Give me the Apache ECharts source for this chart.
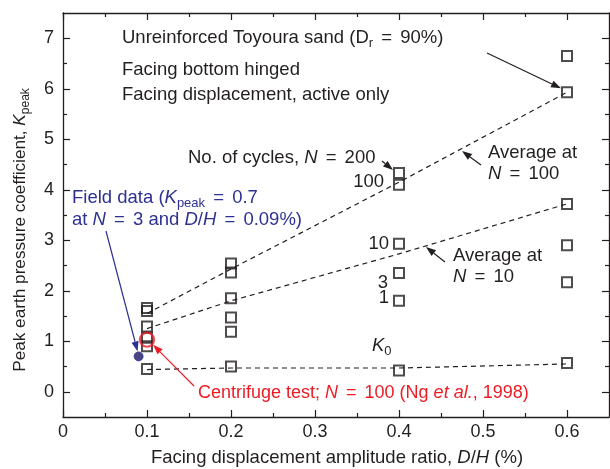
<!DOCTYPE html>
<html>
<head>
<meta charset="utf-8">
<script src="https://cdn.jsdelivr.net/npm/echarts@6/dist/echarts.min.js"></script>
<style>
  html, body { margin: 0; padding: 0; background: #ffffff; }
  #chart { width: 610px; height: 469px; }
</style>
</head>
<body>
<div id="chart"></div>
<script>
// Facing displacement amplitude ratio D/H (%) of the tested columns
const ratio = [0.1, 0.2, 0.4, 0.6];

// Measured peak earth pressure coefficients, by number of cycles
const kN200 = [1.66, 2.54, 4.33, 6.65];
const kN100 = [1.60, 2.36, 4.10, 5.93];
const kN10  = [1.29, 1.85, 2.93, 3.72];
const kN3   = [1.07, 1.47, 2.35, 2.90];
const kN1   = [0.90, 1.19, 1.80, 2.17];
const kK0   = [0.45, 0.50, 0.42, 0.57];

// Average trends
const avgN100 = [1.55, 2.43, 4.15, 5.93];
const avgN10  = [1.25, 1.80, 2.73, 3.72];
const trendK0 = [0.44, 0.47, 0.47, 0.55];

// Other references
const fieldPoint = [0.09, 0.7];
const centrifugePoint = [0.1, 1.03];

// Axis ticks
const xMajorTicks = [0, 0.1, 0.2, 0.3, 0.4, 0.5, 0.6];
const xMinorTicks = [0.05, 0.15, 0.25, 0.35, 0.45, 0.55];
const yMajorTicks = [0, 1, 2, 3, 4, 5, 6, 7];
const yMinorTicks = [0.5, 1.5, 2.5, 3.5, 4.5, 5.5, 6.5];

const FONT = '"Liberation Sans", Arial, sans-serif';
const INK = '#231f20';
const RED = '#ed1c24';
const BLUE = '#2e3192';
const FS = 18.5;

const chart = echarts.init(document.getElementById('chart'), null, { renderer: 'canvas' });

const pairs = vals => ratio.map((x, i) => [x, vals[i]]);

const squares = (name, vals) => ({
  name, type: 'scatter', data: pairs(vals), symbol: 'rect', symbolSize: 10,
  itemStyle: { color: 'rgba(255,255,255,0)', borderColor: INK, borderWidth: 2 },
  z: 5, silent: true
});
const dashed = (name, vals) => ({
  name, type: 'line', data: pairs(vals), symbol: 'none',
  lineStyle: { color: INK, width: 1.2, type: [5, 4] }, z: 3, silent: true
});

function axis(pos, dim, ticks, len, withLine, labels) {
  const a = {
    type: 'value', position: pos,
    min: dim === 'x' ? 0 : -0.5, max: dim === 'x' ? 0.65 : 7.5,
    axisLine: { show: withLine, onZero: false, lineStyle: { color: INK, width: 1.3 } },
    axisTick: { show: true, inside: true, length: len, customValues: ticks, lineStyle: { color: INK, width: 1.2 } },
    axisLabel: { show: false },
    splitLine: { show: false }
  };
  if (labels) {
    a.axisLabel = {
      show: true, customValues: ticks, color: INK, fontSize: 18, fontFamily: FONT,
      margin: dim === 'x' ? 6 : 9,
      formatter: v => (dim === 'x' ? (v === 0 ? '0' : v.toFixed(1)) : String(v))
    };
  }
  return a;
}

chart.setOption({
  animation: false,
  backgroundColor: '#ffffff',
  textStyle: { fontFamily: FONT },
  grid: { left: 63, right: 1, top: 13, bottom: 52, containLabel: false },
  xAxis: [
    axis('bottom', 'x', xMajorTicks, 7, true, true),
    axis('bottom', 'x', xMinorTicks, 4, false, false),
    axis('top', 'x', xMajorTicks, 7, true, false),
    axis('top', 'x', xMinorTicks, 4, false, false)
  ],
  yAxis: [
    axis('left', 'y', yMajorTicks, 7, true, true),
    axis('left', 'y', yMinorTicks, 4, false, false),
    axis('right', 'y', yMajorTicks, 7, true, false),
    axis('right', 'y', yMinorTicks, 4, false, false)
  ],
  series: [
    dashed('Average N = 100', avgN100),
    dashed('Average N = 10', avgN10),
    dashed('K0 trend', trendK0),
    squares('N = 200', kN200),
    squares('N = 100', kN100),
    squares('N = 10', kN10),
    squares('N = 3', kN3),
    squares('N = 1', kN1),
    squares('K0', kK0),
    {
      name: 'Centrifuge test', type: 'scatter', data: [centrifugePoint], symbol: 'circle', symbolSize: 14,
      itemStyle: { color: 'rgba(255,255,255,0)', borderColor: RED, borderWidth: 2.2 }, z: 6, silent: true
    },
    {
      name: 'Field data', type: 'scatter', data: [fieldPoint], symbol: 'circle', symbolSize: 9,
      itemStyle: { color: '#1b1464', borderColor: BLUE, borderWidth: 1 }, z: 6, silent: true
    }
  ]
});

// ---- annotations ----
const measureCtx = document.createElement('canvas').getContext('2d');
const fontStr = (size, italic) => (italic ? 'italic ' : '') + size + 'px ' + FONT;
function textWidth(t, size, italic) {
  measureCtx.font = fontStr(size, italic);
  return measureCtx.measureText(t).width;
}

// Lay out a run of text pieces (plain, italic, subscript, fixed gaps) starting at x, centred on y.
function textRun(x, y, segs, opts) {
  opts = opts || {};
  const size = opts.size || FS;
  const color = opts.color || INK;
  const subSize = Math.round(size * 0.7);
  const widths = segs.map(s => (s.gap !== undefined ? s.gap : textWidth(s.t, s.sub ? subSize : size, s.i)));
  const total = widths.reduce((a, b) => a + b, 0);
  let cx = opts.align === 'right' ? x - total : opts.align === 'center' ? x - total / 2 : x;
  const out = [];
  segs.forEach((s, k) => {
    if (s.gap === undefined) {
      out.push({
        type: 'text', x: cx, y: y + (s.sub ? size * 0.32 : 0), silent: true, z: 20,
        style: {
          text: s.t, font: fontStr(s.sub ? subSize : size, s.i), fill: color,
          textAlign: 'left', verticalAlign: 'middle'
        }
      });
    }
    cx += widths[k];
  });
  return out;
}

function arrow(x1, y1, x2, y2, color, width) {
  const ang = Math.atan2(y2 - y1, x2 - x1);
  const hl = 10, hw = 3.6;
  const bx = x2 - hl * Math.cos(ang), by = y2 - hl * Math.sin(ang);
  const px = -Math.sin(ang) * hw, py = Math.cos(ang) * hw;
  return [
    { type: 'line', silent: true, z: 19, shape: { x1, y1, x2: bx, y2: by }, style: { stroke: color, lineWidth: width || 1.2 } },
    { type: 'polygon', silent: true, z: 19, shape: { points: [[x2, y2], [bx + px, by + py], [bx - px, by - py]] }, style: { fill: color } }
  ];
}

const P = (x, y) => chart.convertToPixel({ xAxisIndex: 0, yAxisIndex: 0 }, [x, y]);

const g = [];
const T = (s, i, sub) => ({ t: s, i: !!i, sub: !!sub });
const GAP = { gap: 3 };
const EQ = [GAP, T(' = '), GAP];

g.push(...textRun(122, 38, [T('Unreinforced Toyoura sand (D'), T('r', 0, 1), ...EQ, T('90%)')]));
g.push(...textRun(122, 70, [T('Facing bottom hinged')]));
g.push(...textRun(122, 95, [T('Facing displacement, active only')]));

const pTop = P(ratio[3], kN100[3]);
g.push(...arrow(487, 53, pTop[0] - 6, pTop[1] - 4, INK));

g.push(...textRun(188, 158, [T('No. of cycles, '), T('N', 1), ...EQ, T('200')]));
const p200 = P(ratio[2], kN200[2]);
g.push(...arrow(382, 161, p200[0] - 6, p200[1] - 3, INK));
g.push(...textRun(384, 182, [T('100')], { align: 'right' }));

g.push(...textRun(488, 153, [T('Average at')]));
g.push(...textRun(488, 174, [T('N', 1), ...EQ, T('100')]));
g.push(...arrow(481, 165, 462, 151, INK));

g.push(...textRun(389, 244, [T('10')], { align: 'right' }));
g.push(...textRun(453, 256, [T('Average at')]));
g.push(...textRun(453, 277, [T('N', 1), ...EQ, T('10')]));
g.push(...arrow(445, 262, 426, 247, INK));
g.push(...textRun(388, 283, [T('3')], { align: 'right' }));
g.push(...textRun(389, 298, [T('1')], { align: 'right' }));
g.push(...textRun(372, 346, [T('K', 1), T('0', 0, 1)]));

g.push(...textRun(72, 198, [T('Field data ('), T('K', 1), T('peak', 0, 1), ...EQ, T('0.7')], { color: BLUE }));
g.push(...textRun(72, 220, [T('at '), T('N', 1), ...EQ, T('3 and '), T('D', 1), T('/'), T('H', 1), ...EQ, T('0.09%)')], { color: BLUE }));
const pField = P(fieldPoint[0], fieldPoint[1]);
g.push(...arrow(106, 231, pField[0] - 1, pField[1] - 5, BLUE));

g.push(...textRun(198, 393, [T('Centrifuge test; '), T('N', 1), ...EQ, T('100 (Ng '), T('et al.', 1), T(', 1998)')], { color: RED, size: 18 }));
const pCent = P(centrifugePoint[0], centrifugePoint[1]);
g.push(...arrow(194, 386, pCent[0] + 6, pCent[1] + 5, RED));

// axis titles
g.push(...textRun(337, 458, [T('Facing displacement amplitude ratio, '), T('D', 1), T('/'), T('H', 1), T(' (%)')], { align: 'center' }));
g.push({
  type: 'group', x: 20, y: 230, rotation: Math.PI / 2,
  children: textRun(0, 0, [T('Peak earth pressure coefficient, '), T('K', 1), T('peak', 0, 1)], { align: 'center', size: 17.2 })
});

chart.setOption({ graphic: { elements: g } });
</script>
</body>
</html>
